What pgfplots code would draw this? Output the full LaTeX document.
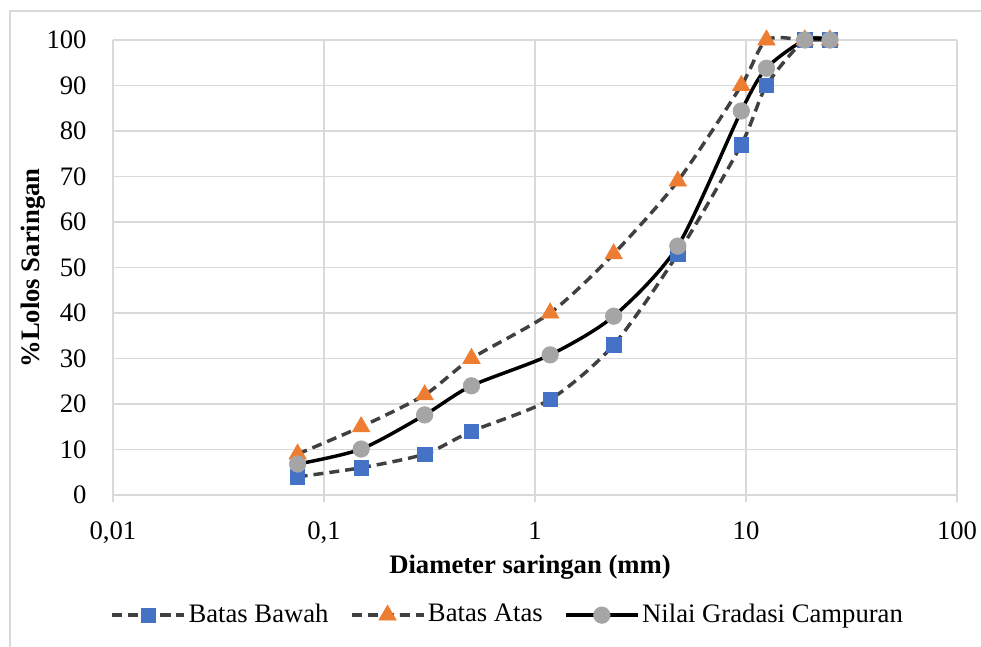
\documentclass[border=0pt]{standalone}
\usepackage{pgfplots}
\pgfplotsset{compat=1.18}
\usepackage{fontspec}
\setmainfont{Liberation Serif}
\definecolor{cblue}{HTML}{4472C4}
\definecolor{corange}{HTML}{ED7D31}
\definecolor{cgray}{HTML}{A5A5A5}
\definecolor{cline}{HTML}{404040}
\definecolor{majgrid}{HTML}{D9D9D9}
\definecolor{mingrid}{HTML}{EDEDED}
\begin{document}
\fontsize{20}{24}\selectfont
\begin{tikzpicture}[x=0.75pt,y=-0.75pt]
\useasboundingbox (0,0) rectangle (981,646);
\draw[majgrid,line width=1.5pt] (10,11) rectangle (1000,700);
\begin{axis}[
  at={(84.75pt,-371.25pt)}, anchor=south west,
  scale only axis, width=633pt, height=341.25pt,
  xmode=log, xmin=0.01, xmax=100, ymin=0, ymax=100,
  log basis x=10,
  xtick={0.01,0.1,1,10,100},
  xticklabels={{0,01},{0,1},1,10,100},
  ytick={0,10,...,100},
  /pgf/number format/assume math mode=true,
  ticklabel style={font=\fontsize{20}{24}\selectfont},
  xticklabel style={yshift=-8pt},
  yticklabel style={xshift=-8pt},
  grid=both,
  major grid style={majgrid,line width=1pt},
  minor grid style={mingrid,line width=1pt},
  axis line style={majgrid,line width=1pt},
  axis x line*=bottom, axis y line*=left,
  x axis line style={-},
  y axis line style={-},
  tick style={majgrid,line width=1pt},
  major tick length=5pt, minor tick length=0pt,
  xtick pos=bottom, ytick pos=left,
  tick align=outside,
  ytick style={draw=none},
  legend columns=3,
  legend style={at={(axis description cs:0.468,-0.264)}, anchor=center, draw=none, fill=none,
    font=\fontsize{20}{24}\selectfont, nodes={inner xsep=2pt},
    /tikz/every even column/.append style={column sep=14pt},
    /tikz/every odd column/.append style={column sep=0pt}},
  legend image code/.code={
    \draw[mark repeat=2,mark phase=2] plot coordinates {(0pt,0pt) (27pt,0pt) (54pt,0pt)};
  },
  clip=false,
]
\addplot[cline, line width=2.6pt, dash pattern=on 7.5pt off 4.5pt, smooth, tension=0.45,
  mark=square*, mark size=5.4pt, mark options={solid, fill=cblue, draw=cblue, line width=0.5pt}]
  coordinates {(0.075,4) (0.15,6) (0.3,9) (0.5,14) (1.18,21) (2.36,33) (4.75,53) (9.5,77) (12.5,90) (19,100) (25,100)};
\addlegendentry{Batas Bawah}
\addplot[cline, line width=2.6pt, dash pattern=on 7.5pt off 4.5pt, smooth, tension=0.45,
  mark=triangle*, mark size=7.5pt, mark options={solid, fill=corange, draw=corange, line width=0.5pt}]
  coordinates {(0.075,9) (0.15,15) (0.3,22) (0.5,30) (1.18,40) (2.36,53) (4.75,69) (9.5,90) (12.5,100) (19,100) (25,100)};
\addlegendentry{Batas Atas}
\addplot[black, line width=2.6pt, smooth, tension=0.45,
  mark=*, mark size=6.2pt, mark options={solid, fill=cgray, draw=cgray, line width=0.5pt}]
  coordinates {(0.075,6.8) (0.15,10.1) (0.3,17.6) (0.5,24) (1.18,30.8) (2.36,39.3) (4.75,54.7) (9.5,84.4) (12.5,93.8) (19,100) (25,100)};
\addlegendentry{Nilai Gradasi Campuran}
\end{axis}
\node[font=\fontsize{20}{24}\selectfont\bfseries] at (530,567) {Diameter saringan (mm)};
\node[font=\fontsize{20}{24}\selectfont\bfseries, rotate=90] at (33,268) {\%Lolos Saringan};
\end{tikzpicture}
\end{document}
